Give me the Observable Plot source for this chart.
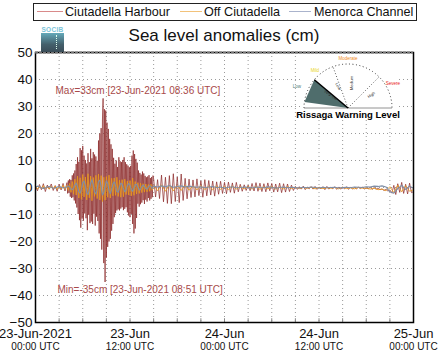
<!DOCTYPE html>
<html>
<head>
<meta charset="utf-8">
<script src="https://cdn.jsdelivr.net/npm/d3@7"></script>
<script src="https://cdn.jsdelivr.net/npm/@observablehq/plot@0.6"></script>
<style>
  html, body { margin: 0; padding: 0; background: white; }
  #wrap { position: relative; width: 442px; height: 359px; font-family: "Liberation Sans", Arial, Helvetica, sans-serif; }
  #legend { position: absolute; left: 33px; top: 3px; width: 382px; height: 16px; border: 1.5px solid #222; background: white; }
  .sw { position: absolute; top: 7px; height: 0; border-top: 1.5px solid; }
  .lt { position: absolute; top: -1px; font-size: 12.6px; line-height: 18px; color: #111; white-space: nowrap; }
  #title { position: absolute; left: 0; width: 448px; top: 26px; text-align: center; font-size: 17px; line-height: 20px; color: #111; }
  #logo { position: absolute; left: 41px; top: 26px; width: 23px; height: 26px; }
  #logo .t { position: absolute; left: 0; top: 0; width: 23px; font-size: 6.5px; line-height: 7px; font-weight: bold; color: #79c3d8; letter-spacing: 0.3px; text-align: center; }
  #logo .b { position: absolute; left: 0; top: 7px; width: 23px; height: 19px; background: linear-gradient(#64a9ba, #44606c 60%, #3a4d58); }
  #logo .d { position: absolute; left: 15px; top: 9px; height: 14px; border-left: 1px dotted #dfe; }
  #gauge { position: absolute; left: 290px; top: 50px; }
  svg.plot { position: absolute; left: 0; top: 0; }
</style>
</head>
<body>
<div id="wrap"></div>
<script>
// ---------- data ----------
const seriesNames = ["Ciutadella Harbour", "Off Ciutadella", "Menorca Channel"];
const seriesColors = ["#8c2a2a", "#e8961e", "#7f8ea6"];
const legendColors = ["#d98a8a", "#f2c27a", "#aab3cc"];

// Ciutadella Harbour (cm): 00:00-04:00 every 15 min
const harbourEarly = [0.5,-1.2,1.1,-0.8,1.4,-1.5,0.9,-0.6,1.3,-1.1,0.7,-1.4,1.2,-0.9,1.5,-1.3];
// 04:00-15:00 every 5 min
const harbourEvent = [
  1.8,-2.2,2.6,-2.0,3.1,-3.4,2.8,-3.9,4.5,-3.6,5.2,-4.8,
  6.3,-5.9,8.7,-7.4,11.2,-9.8,9.5,-12.1,14.6,-14.9,13.8,-11.5,
  15.4,-12.3,11.8,-9.6,10.2,-11.4,8.9,-15.8,12.7,-10.1,9.4,-13.2,
  14.3,-12.6,10.8,-13.5,13.1,-9.7,12.2,-14.1,11.5,-10.8,9.9,-12.4,
  17.4,-17.0,20.0,-19.0,22.0,-23.0,25.0,33.0,-28.0,29.0,-35.0,28.5,
  -26.0,24.0,-22.0,21.7,-20.0,18.0,-19.0,16.0,-16.0,14.3,-13.5,11.0,
  -11.0,8.8,-9.5,10.0,-8.5,7.6,-8.1,11.2,-8.5,9.7,-7.8,9.4,
  -7.3,10.2,-8.4,11.2,-7.9,9.4,-7.3,8.6,-9.2,8.1,-10.4,7.5,
  -11.0,8.0,-9.8,11.8,-13.5,13.7,-17.0,12.4,-15.2,10.6,-11.3,9.2,
  -6.0,6.3,-7.1,5.4,-6.2,4.8,-5.6,5.9,-4.7,5.2,-6.1,4.3,
  -4.5,3.8,-5.2,4.1,-3.9,4.6,-4.8,3.5,-4.2,3.9,-3.6,4.4
];
// 15:00-48:00 every 15 min
const harbourLate = [
  3.2,-3.5,2.9,-4.1, 4.6,-5.3,3.8,-5.9, 4.4,-6.0,5.1,-5.2, 3.9,-5.6,5.0,-4.8,
  3.4,-4.2,3.1,-3.7, 2.8,-3.5,3.2,-3.0, 2.5,-3.6,2.9,-3.1, 2.6,-2.8,2.4,-3.2,
  2.1,-2.5,2.3,-2.2, 1.9,-2.3,2.0,-1.8, 1.7,-2.1,1.9,-1.6, 1.2,-1.4,1.0,-1.1,
  0.9,-1.2,1.5,-1.3, 1.8,-1.4,1.6,-1.5, 1.4,-1.6,1.7,-1.2, 1.5,-1.7,1.3,-1.6,
  1.6,-1.9,1.4,-1.7, 1.3,-1.5,0.9,-1.1, 0.4,-0.7,0.3,-0.6, 0.5,-0.8,0.2,-0.5,
  0.3,-0.6,0.4,-0.7, 0.2,-0.5,0.3,-0.8, 0.4,-0.6,0.1,-0.5, 0.3,-0.7,0.2,-0.6,
  0.1,-0.5,0.3,-0.7, 0.2,-0.6,0.0,-0.5, 0.1,-0.4,0.2,-0.6, -0.1,-0.5,0.1,-0.7,
  0.0,-0.6,-0.2,-0.8, -0.5,-1.1,-0.7,-1.3, -0.9,-2.1,0.8,-2.6, 1.4,-1.8,1.9,-2.2,
  1.2,-2.4,1.6,-1.9, -1.5
];

// Off Ciutadella (cm): 00:00-04:00 every 15 min, 04:00-15:00 every 10 min, 15:00-48:00 every 30 min
const offEarly = [0.4,-0.6,0.5,-0.3,0.7,-0.5,0.3,-0.6,0.5,-0.4,0.6,-0.7,0.4,-0.5,0.8,-0.6];
const offEvent = [
  0.9,-1.1,1.5,-1.8,2.2,-2.5,
  3.1,-2.8,4.2,-3.9,3.6,-4.4,
  4.8,-3.5,3.9,-4.6,5.1,-3.8,
  4.2,-4.9,3.7,-3.3,4.5,-4.1,
  5.0,-4.6,4.4,-5.2,3.8,-4.7,
  4.1,-3.6,4.6,-3.9,3.4,-3.1,
  3.5,-2.9,3.8,-3.3,2.7,-3.6,
  2.9,-3.4,3.1,-2.6,2.4,-2.8,
  2.6,-3.1,3.5,-2.9,2.2,-2.4,
  1.8,-2.2,1.6,-1.9,1.4,-1.7,
  1.3,-1.6,1.1,-1.4,1.2,-1.0
];
const offLate = [
  0.8,-1.2,1.0,-1.4,0.9,-1.3,0.7,-1.1,0.8,-1.0,0.6,-0.9,
  0.7,-0.8,0.5,-0.9,0.6,-0.7,0.4,-0.8,0.5,-0.6,0.3,-0.5,
  0.4,-0.6,0.5,-0.7,0.3,-0.5,0.4,-0.6,0.2,-0.5,0.3,-0.4,
  0.1,-0.4,0.0,-0.3,0.1,-0.5,0.0,-0.4,-0.1,-0.3,0.0,-0.5,
  0.1,-0.4,-0.1,-0.5,0.0,-0.3,-0.2,-0.6,-0.3,-0.8,-0.6,-1.2,
  0.3,-1.9,0.9,-1.6,0.7,-1.4,
  -0.8
];

// Menorca Channel (cm): same sampling as Off Ciutadella
const chanEarly = [0.2,0.5,0.3,-0.2,-0.4,-0.1,0.3,0.4,0.1,-0.3,-0.2,0.2,0.4,0.1,-0.2,-0.1];
const chanEvent = [
  0.3,0.6,0.2,-0.5,-0.8,-0.3,
  0.9,1.6,0.4,-1.5,-2.1,-0.6,
  1.8,2.4,0.5,-1.9,-2.6,-0.8,
  1.5,2.9,1.1,-1.6,-2.4,-0.5,
  2.2,2.7,0.3,-2.8,-1.9,0.4,
  2.5,1.6,-1.2,-2.3,-0.7,1.4,
  2.1,0.6,-1.5,-1.8,0.2,1.6,
  1.3,-0.4,-1.6,-0.9,0.7,1.5,
  0.9,-0.8,-1.4,-0.3,1.1,1.2,
  0.2,-0.9,-0.7,0.4,0.9,0.3,
  -0.4,-0.6,0.2,0.7,0.3,-0.3
];
const chanLate = [
  0.5,0.2,0.6,0.3,0.7,0.1,0.4,0.6,0.2,0.5,0.3,0.1,
  0.3,-0.1,0.2,0.4,0.0,0.2,-0.2,0.1,0.3,-0.1,0.0,0.2,
  0.1,-0.2,0.2,0.0,-0.1,0.3,0.1,-0.3,0.0,0.2,-0.1,0.1,
  0.0,-0.2,0.1,-0.1,0.2,0.0,-0.2,0.1,-0.1,0.0,0.1,-0.2,
  0.0,0.1,-0.1,0.2,0.1,0.0,0.3,0.2,0.5,0.4,0.6,0.2,
  -1.6,-2.1,-0.4,0.8,-0.7,0.5,
  -0.3
];

// axis ticks
const yTicks = [-50,-40,-30,-20,-10,0,10,20,30,40,50];
const gridHours = [3,6,9,12,15,18,21,24,27,30,33,36,39,42,45];
const xTickHours = [0,12,24,36,48];
const xTickDay = ["23-Jun-2021","23-Jun","24-Jun","24-Jun","25-Jun"];
const xTickTime = ["00:00 UTC","12:00 UTC","00:00 UTC","12:00 UTC","00:00 UTC"];
const maxLabel = "Max=33cm [23-Jun-2021 08:36 UTC]";
const minLabel = "Min=-35cm [23-Jun-2021 08:51 UTC]";
const titleText = "Sea level anomalies (cm)";

// ---------- build ----------
const t0 = Date.UTC(2021, 5, 23);
const HOUR = 3600000;
const at = h => new Date(t0 + h * HOUR);
function seg(startH, stepMin, vals, name) {
  return vals.map((v, i) => ({time: new Date(t0 + (startH * 60 + i * stepMin) * 60000), value: v, series: name}));
}
const harbour = [...seg(0,15,harbourEarly,seriesNames[0]), ...seg(4,5,harbourEvent,seriesNames[0]), ...seg(15,15,harbourLate,seriesNames[0])];
const off = [...seg(0,15,offEarly,seriesNames[1]), ...seg(4,10,offEvent,seriesNames[1]), ...seg(15,30,offLate,seriesNames[1])];
const chan = [...seg(0,15,chanEarly,seriesNames[2]), ...seg(4,10,chanEvent,seriesNames[2]), ...seg(15,30,chanLate,seriesNames[2])];
const gridTimes = gridHours.map(at);
const xTicks = xTickHours.map((h, i) => ({time: at(h), day: xTickDay[i], tm: xTickTime[i]}));

const font = '"Liberation Sans", Arial, Helvetica, sans-serif';
const chart = Plot.plot({
  width: 442, height: 359,
  marginTop: 52, marginBottom: 37, marginLeft: 35, marginRight: 29,
  style: {fontFamily: font, background: "white", color: "#111"},
  x: {type: "utc", domain: [at(0), at(48)], axis: null},
  y: {domain: [-50, 50], axis: null},
  marks: [
    Plot.gridY(yTicks, {stroke: "#9a9a9a", strokeOpacity: 1, strokeDasharray: "1,3"}),
    Plot.gridX(gridTimes, {stroke: "#9a9a9a", strokeOpacity: 1, strokeDasharray: "1,3"}),
    Plot.ruleX(gridTimes, {y1: -50, y2: -48.6, stroke: "#888"}),
    Plot.line(harbour, {x: "time", y: "value", stroke: seriesColors[0], strokeOpacity: 0.72, strokeWidth: 1}),
    Plot.line(off, {x: "time", y: "value", stroke: seriesColors[1], strokeOpacity: 0.85, strokeWidth: 1}),
    Plot.line(chan, {x: "time", y: "value", stroke: seriesColors[2], strokeWidth: 1.1}),
    Plot.axisY(yTicks, {tickSize: 0, tickPadding: 3, fontSize: 13.5, label: null}),
    Plot.text(xTicks, {x: "time", text: "day", frameAnchor: "bottom", dy: 11, fontSize: 13, lineAnchor: "middle"}),
    Plot.text(xTicks, {x: "time", text: "tm", frameAnchor: "bottom", dy: 24, fontSize: 10, lineAnchor: "middle"}),
    Plot.frame({stroke: "#000", strokeWidth: 1.5}),
    Plot.ruleY([50], {stroke: "#777", strokeWidth: 2, strokeDasharray: "3,1"}),
    Plot.text([maxLabel], {frameAnchor: "top-left", dx: 20, dy: 38, text: d => d, fill: "#a84a4a", fontSize: 10, textAnchor: "start", lineAnchor: "middle"}),
    Plot.text([minLabel], {frameAnchor: "bottom-left", dx: 22, dy: -33, text: d => d, fill: "#a84a4a", fontSize: 10, textAnchor: "start", lineAnchor: "middle"})
  ]
});
chart.classList.add("plot");
const wrap = document.getElementById("wrap");
wrap.appendChild(chart);

// legend
const legend = document.createElement("div");
legend.id = "legend";
const swX = [3, 146, 255];
const txX = [31, 170, 280];
seriesNames.forEach((n, i) => {
  const s = document.createElement("div");
  s.className = "sw";
  s.style.left = swX[i] + "px";
  s.style.width = (i === 0 ? 26 : 22) + "px";
  s.style.borderTopColor = legendColors[i];
  legend.appendChild(s);
  const t = document.createElement("div");
  t.className = "lt";
  t.style.left = txX[i] + "px";
  t.textContent = n;
  legend.appendChild(t);
});
wrap.appendChild(legend);

// title
const title = document.createElement("div");
title.id = "title";
title.textContent = titleText;
wrap.appendChild(title);

// logo
const logo = document.createElement("div");
logo.id = "logo";
logo.innerHTML = '<div class="t">SOCIB</div><div class="b"></div><div class="d"></div>';
wrap.appendChild(logo);

// rissaga gauge
const g = document.createElementNS("http://www.w3.org/2000/svg", "svg");
g.setAttribute("id", "gauge");
g.setAttribute("width", "115");
g.setAttribute("height", "72");
g.setAttribute("viewBox", "290 50 115 72");
const cx = 348, cy = 108, r = 44;
const pt = (a, rr) => [cx + rr * Math.cos(a * Math.PI / 180), cy - rr * Math.sin(a * Math.PI / 180)];
const p1 = pt(172, r), p2 = pt(140, r * 1.0);
const rad = (a) => { const p = pt(a, r); return `<line x1="${cx}" y1="${cy}" x2="${p[0]}" y2="${p[1]}" stroke="#333" stroke-width="0.8" stroke-dasharray="1,2"/>`; };
g.innerHTML = `
  <rect x="300" y="54" width="98" height="66" fill="white"/>
  <path d="M ${cx - r} ${cy} A ${r} ${r} 0 0 1 ${cx + r} ${cy}" fill="none" stroke="#333" stroke-width="1" stroke-dasharray="1,2.5"/>
  <line x1="${cx - r}" y1="${cy}" x2="${cx + r}" y2="${cy}" stroke="#777" stroke-width="0.8"/>
  ${rad(110)}${rad(45)}
  <polygon points="${cx},${cy} ${p1[0]},${p1[1]} ${p2[0]},${p2[1]}" fill="#4f6d6c"/>
  <line x1="${cx}" y1="${cy}" x2="${p2[0]}" y2="${p2[1]}" stroke="#000" stroke-width="1.5"/>
  <text x="297" y="88" font-size="4.5" fill="#4e7a78" text-anchor="middle" font-family='${font}'>Low</text>
  <text x="315" y="72" font-size="4.5" fill="#e8d21a" text-anchor="middle" font-family='${font}'>Mild</text>
  <text x="348" y="60" font-size="4.5" fill="#ef8a1a" text-anchor="middle" font-family='${font}'>Moderate</text>
  <text x="393" y="85" font-size="4.5" fill="#e82020" text-anchor="middle" font-family='${font}'>Severe</text>
  <text x="0" y="0" font-size="4" fill="#222" text-anchor="middle" transform="translate(330,96) rotate(35)" font-family='${font}'>Very low</text>
  <text x="0" y="0" font-size="4" fill="#222" text-anchor="middle" transform="translate(337,87) rotate(60)" font-family='${font}'>Low</text>
  <text x="0" y="0" font-size="4" fill="#222" text-anchor="middle" transform="translate(353,83) rotate(-90)" font-family='${font}'>Medium</text>
  <text x="0" y="0" font-size="4" fill="#222" text-anchor="middle" transform="translate(372,96) rotate(-35)" font-family='${font}'>High</text>
  <text x="348" y="118" font-size="9.5" font-weight="bold" fill="#000" text-anchor="middle" font-family='${font}'>Rissaga Warning Level</text>
`;
wrap.appendChild(g);
</script>
</body>
</html>
